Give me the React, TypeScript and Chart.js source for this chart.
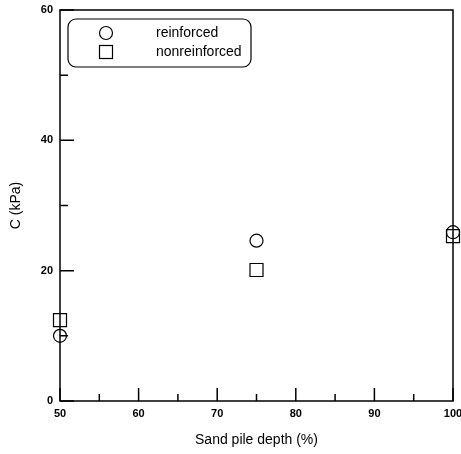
import React, { useEffect, useRef } from "react";
import { Chart, registerables } from "chart.js";

Chart.register(...registerables);

// Sand pile depth (%) on the x axis
const depths = [50, 75, 100];
// Cohesion C (kPa)
const reinforced = [10, 24.6, 25.9];
const nonreinforced = [12.4, 20.1, 25.3];

const seriesNames = ["reinforced", "nonreinforced"];
const xTitle = "Sand pile depth (%)";
const yTitle = "C (kPa)";

const FONT = "'Liberation Sans', Arial, sans-serif";

// Box frame, inward tick marks and the boxed legend
const framePlugin = {
  id: "frame",
  afterDraw(chart: any) {
    const { ctx, chartArea } = chart;
    const { left, right, top, bottom } = chartArea;
    const xs = chart.scales.x;
    const ys = chart.scales.y;
    ctx.save();
    ctx.strokeStyle = "#000";
    ctx.lineWidth = 1.5;
    ctx.strokeRect(left, top, right - left, bottom - top);

    ctx.beginPath();
    for (let v = 50; v <= 100; v += 5) {
      const px = xs.getPixelForValue(v);
      const len = v % 10 === 0 ? 13 : 7;
      ctx.moveTo(px, bottom);
      ctx.lineTo(px, bottom - len);
    }
    for (let v = 0; v <= 60; v += 10) {
      const py = ys.getPixelForValue(v);
      const len = v % 20 === 0 ? 14 : 8;
      ctx.moveTo(left, py);
      ctx.lineTo(left + len, py);
    }
    ctx.stroke();

    // legend box
    const bx = left + 8;
    const by = top + 9;
    const bw = 183;
    const bh = 48;
    const r = 8;
    ctx.lineWidth = 1.2;
    ctx.beginPath();
    ctx.moveTo(bx + r, by);
    ctx.lineTo(bx + bw - r, by);
    ctx.arcTo(bx + bw, by, bx + bw, by + r, r);
    ctx.lineTo(bx + bw, by + bh - r);
    ctx.arcTo(bx + bw, by + bh, bx + bw - r, by + bh, r);
    ctx.lineTo(bx + r, by + bh);
    ctx.arcTo(bx, by + bh, bx, by + bh - r, r);
    ctx.lineTo(bx, by + r);
    ctx.arcTo(bx, by, bx + r, by, r);
    ctx.closePath();
    ctx.stroke();

    const mx = bx + 38;
    const y1 = by + 14;
    const y2 = by + 33;
    ctx.lineWidth = 1.2;
    ctx.beginPath();
    ctx.arc(mx, y1, 6.5, 0, Math.PI * 2);
    ctx.stroke();
    ctx.strokeRect(mx - 6.5, y2 - 6.5, 13, 13);

    ctx.fillStyle = "#000";
    ctx.font = `14px ${FONT}`;
    ctx.textBaseline = "middle";
    ctx.textAlign = "left";
    ctx.fillText(seriesNames[0], bx + 88, y1);
    ctx.fillText(seriesNames[1], bx + 88, y2);
    ctx.restore();
  },
};

export default function App() {
  const ref = useRef<HTMLCanvasElement>(null);

  useEffect(() => {
    document.body.style.margin = "0";
    const canvas = ref.current;
    if (!canvas) return;
    const chart = new Chart(canvas, {
      type: "scatter",
      data: {
        datasets: [
          {
            label: seriesNames[0],
            data: depths.map((d, i) => ({ x: d, y: reinforced[i] })),
            pointStyle: "circle",
            pointRadius: 6.5,
            pointBorderWidth: 1.2,
            borderColor: "#000",
            backgroundColor: "rgba(0,0,0,0)",
            clip: false,
          },
          {
            label: seriesNames[1],
            data: depths.map((d, i) => ({ x: d, y: nonreinforced[i] })),
            pointStyle: "rect",
            pointRadius: 9.2,
            pointBorderWidth: 1.2,
            borderColor: "#000",
            backgroundColor: "rgba(0,0,0,0)",
            clip: false,
          },
        ],
      },
      options: {
        responsive: false,
        animation: false,
        devicePixelRatio: 1,
        layout: { autoPadding: false, padding: { top: 10, right: 8, left: 0, bottom: 0 } },
        plugins: {
          legend: { display: false },
          tooltip: { enabled: false },
        },
        scales: {
          x: {
            type: "linear",
            min: 50,
            max: 100,
            grid: { display: false, drawTicks: false },
            border: { display: false },
            ticks: {
              stepSize: 5,
              autoSkip: false,
              maxRotation: 0,
              padding: 6,
              color: "#000",
              font: { family: FONT, size: 11, weight: "bold" },
              callback: (v: any) => (Number(v) % 10 === 0 ? String(v) : ""),
            },
            title: {
              display: true,
              text: xTitle,
              color: "#000",
              font: { family: FONT, size: 14 },
              padding: { top: 0, bottom: 5 },
            },
            afterFit: (s: any) => {
              s.height = 53;
              s.paddingLeft = 0;
              s.paddingRight = 0;
            },
          },
          y: {
            type: "linear",
            min: 0,
            max: 60,
            grid: { display: false, drawTicks: false },
            border: { display: false },
            ticks: {
              stepSize: 10,
              autoSkip: false,
              padding: 7,
              color: "#000",
              font: { family: FONT, size: 11, weight: "bold" },
              callback: (v: any) => (Number(v) % 20 === 0 ? String(v) : ""),
            },
            title: {
              display: true,
              text: yTitle,
              color: "#000",
              font: { family: FONT, size: 14 },
              padding: { top: 8, bottom: 0 },
            },
            afterFit: (s: any) => {
              s.width = 60;
              s.paddingTop = 0;
              s.paddingBottom = 0;
            },
          },
        },
      },
      plugins: [framePlugin],
    });
    return () => chart.destroy();
  }, []);

  return (
    <div style={{ width: 461, height: 454, background: "#fff" }}>
      <canvas ref={ref} width={461} height={454} />
    </div>
  );
}
